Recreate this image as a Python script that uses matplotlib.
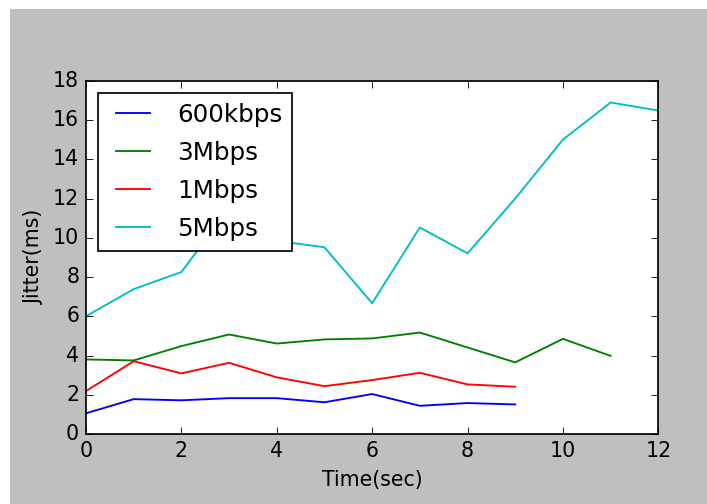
import matplotlib
matplotlib.use("Agg")
import matplotlib.pyplot as plt
from matplotlib.patches import Rectangle

# Data
time_600k = [0, 1, 2, 3, 4, 5, 6, 7, 8, 9]
jitter_600k = [1.07, 1.79, 1.73, 1.84, 1.84, 1.63, 2.05, 1.45, 1.59, 1.52]

time_3m = [0, 1, 2, 3, 4, 5, 6, 7, 8, 9, 10, 11]
jitter_3m = [3.81, 3.76, 4.49, 5.08, 4.62, 4.83, 4.88, 5.18, 4.42, 3.66, 4.86, 3.99]

time_1m = [0, 1, 2, 3, 4, 5, 6, 7, 8, 9]
jitter_1m = [2.20, 3.72, 3.10, 3.64, 2.90, 2.45, 2.76, 3.13, 2.54, 2.42]

time_5m = [0, 1, 2, 3, 4, 5, 6, 7, 8, 9, 10, 11, 12]
jitter_5m = [6.01, 7.39, 8.26, 11.5, 9.85, 9.52, 6.67, 10.53, 9.21, 12.0, 15.0, 16.89, 16.48]

labels = ["600kbps", "3Mbps", "1Mbps", "5Mbps"]

plt.style.use("classic")
DPI = 123
fig = plt.figure(figsize=(707 / DPI, 504 / DPI), dpi=DPI, facecolor="white")
fig.add_artist(Rectangle((10 / 707, 0), 1, 1 - 9 / 504, transform=fig.transFigure,
                         facecolor="0.75", edgecolor="none", zorder=-10))

ax = fig.add_axes([86 / 707, (504 - 434.3) / 504, (658.3 - 86) / 707, (434.3 - 80.7) / 504])
lw = 1.1
ax.plot(time_600k, jitter_600k, color="b", lw=lw, label=labels[0])
ax.plot(time_3m, jitter_3m, color="g", lw=lw, label=labels[1])
ax.plot(time_1m, jitter_1m, color="r", lw=lw, label=labels[2])
ax.plot(time_5m, jitter_5m, color="c", lw=lw, label=labels[3])

ax.set_xlim(0, 12)
ax.set_ylim(0, 18)
ax.set_xlabel("Time(sec)")
ax.set_ylabel("Jitter(ms)")
ax.legend(loc="upper left", labelspacing=0.57)

fig.savefig("out.png", dpi=DPI)
